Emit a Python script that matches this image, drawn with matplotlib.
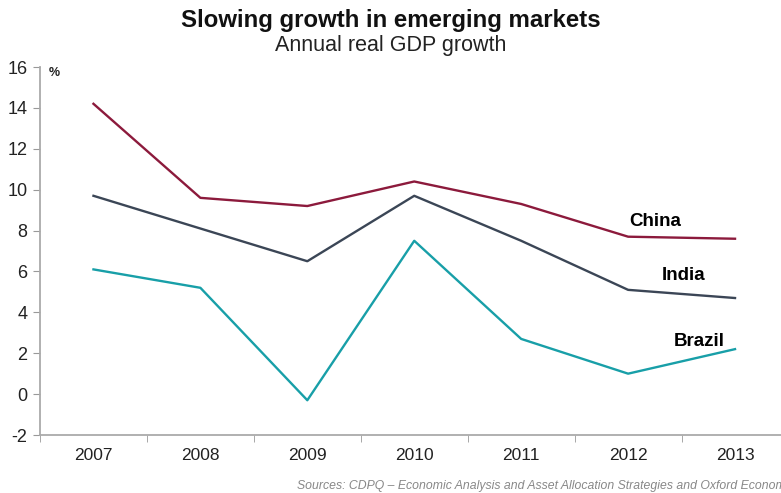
import matplotlib.pyplot as plt
import numpy as np

# Annual real GDP growth, %
years = ['2007', '2008', '2009', '2010', '2011', '2012', '2013']
china = [14.2, 9.6, 9.2, 10.4, 9.3, 7.7, 7.6]
india = [9.7, 8.1, 6.5, 9.7, 7.5, 5.1, 4.7]
brazil = [6.1, 5.2, -0.3, 7.5, 2.7, 1.0, 2.2]

plt.rcParams['font.family'] = ['Liberation Sans', 'DejaVu Sans']
plt.rcParams['axes.unicode_minus'] = False

fig = plt.figure(figsize=(7.81, 4.93), dpi=100)
ax = fig.add_axes([40 / 781, 1 - 435 / 493, 1 - 40 / 781, (435 - 67) / 493])

x = np.arange(len(years))
ax.plot(x, china, color='#8c1a3c', lw=1.7)
ax.plot(x, india, color='#3b4656', lw=1.7)
ax.plot(x, brazil, color='#189fa8', lw=1.7)

ax.set_xlim(-0.5, 6.43)
ax.set_ylim(-2, 16)
ax.set_yticks(range(-2, 17, 2))
ax.set_xticks(x)
ax.set_xticklabels(years)
ax.set_xticks(np.arange(-0.5, 6.5, 1), minor=True)
ax.tick_params(axis='x', which='major', length=0, pad=9, labelsize=12.5, colors='#222222')
ax.tick_params(axis='x', which='minor', length=5, color='#999999')
ax.tick_params(axis='y', length=5, color='#999999', labelsize=13, labelcolor='#222222', pad=4)

for s in ['top', 'right']:
    ax.spines[s].set_visible(False)
for s in ['left', 'bottom']:
    ax.spines[s].set_color('#aaaaaa')
    ax.spines[s].set_linewidth(1.3)

ax.text(-0.42, 15.7, '%', fontsize=9, fontweight='bold', color='#222222', va='center')

ax.text(5.25, 8.45, 'China', fontsize=13.5, fontweight='bold', ha='center', va='center')
ax.text(5.52, 5.8, 'India', fontsize=13.5, fontweight='bold', ha='center', va='center')
ax.text(5.67, 2.55, 'Brazil', fontsize=13.5, fontweight='bold', ha='center', va='center')

fig.text(0.5, 1 - 20 / 493, 'Slowing growth in emerging markets', fontsize=17.3,
         fontweight='bold', ha='center', va='center', color='#111111')
fig.text(0.5, 1 - 45 / 493, 'Annual real GDP growth', fontsize=15.5,
         ha='center', va='center', color='#222222')
fig.text(297 / 781, 1 - 486 / 493,
         'Sources: CDPQ \u2013 Economic Analysis and Asset Allocation Strategies and Oxford Economics',
         fontsize=8.8, style='italic', color='#888888', ha='left', va='center')

fig.savefig('out.png', dpi=100)
